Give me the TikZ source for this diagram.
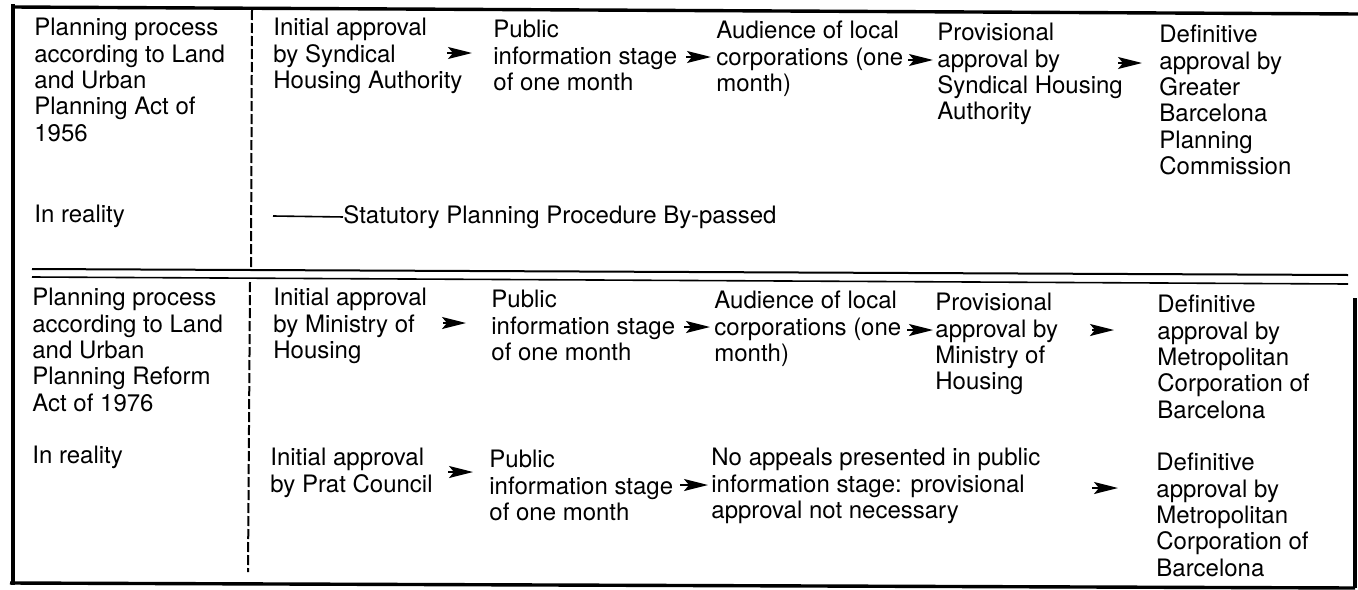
\documentclass[tikz,border=0pt]{standalone}
\usepackage{fontspec}
\setmainfont{TeX Gyre Heros}
\usetikzlibrary{arrows.meta}

\begin{document}
\begin{tikzpicture}[x=0.5pt, y=-0.5pt,
        txt/.style={anchor=north west, inner sep=0pt, align=left,
            font=\fontsize{12}{13.15}\selectfont},
        dart/.style={-{Stealth[length=12pt, width=6pt, inset=2.5pt]}, line width=1pt},
        frame/.style={line width=1.7pt}]
    \useasboundingbox (0,0) rectangle (1358,589);
    \node[txt] (h1) at (34,18)   {Planning process\\according to Land\\and Urban\\Planning Act of\\1956};
    \node[txt] (a1) at (273,18)  {Initial approval\\by Syndical\\Housing Authority};
    \node[txt] (b1) at (493,20)  {Public\\information stage\\of one month};
    \node[txt] (c1) at (716,21)  {Audience of local\\corporations (one\\month)};
    \node[txt] (d1) at (937,23)  {Provisional\\approval by\\Syndical Housing\\Authority};
    \node[txt] (e1) at (1159,25) {Definitive\\approval by\\Greater\\Barcelona\\Planning\\Commission};
    \node[txt] (h2) at (34,205)  {In reality};
    \node[txt] (f2) at (343,205) {Statutory Planning Procedure By-passed};
    \node[txt] (h3) at (32,288)  {Planning process\\according to Land\\and Urban\\Planning Reform\\Act of 1976};
    \node[txt] (a3) at (273,288) {Initial approval\\by Ministry of\\Housing};
    \node[txt] (b3) at (491,290) {Public\\information stage\\of one month};
    \node[txt] (c3) at (714,291) {Audience of local\\corporations (one\\month)};
    \node[txt] (d3) at (935,293) {Provisional\\approval by\\Ministry of\\Housing};
    \node[txt] (e3) at (1157,295) {Definitive\\approval by\\Metropolitan\\Corporation of\\Barcelona};
    \node[txt] (h4) at (32,446)  {In reality};
    \node[txt] (a4) at (270,448) {Initial approval\\by Prat Council};
    \node[txt] (b4) at (489,450) {Public\\information stage\\of one month};
    \node[txt] (c4) at (711,448) {No appeals presented in public\\information stage: provisional\\approval not necessary};
    \node[txt] (e4) at (1156,453) {Definitive\\approval by\\Metropolitan\\Corporation of\\Barcelona};
    \coordinate (g2) at (273,216);
    \coordinate (s11) at (447,53);   \coordinate (t11) at (472,53);
    \coordinate (s12) at (686,57);   \coordinate (t12) at (711,57);
    \coordinate (s13) at (908,60);   \coordinate (t13) at (933,60);
    \coordinate (s14) at (1118,63);  \coordinate (t14) at (1142,63);
    \coordinate (s31) at (443,323);  \coordinate (t31) at (466,323);
    \coordinate (s32) at (684,327);  \coordinate (t32) at (710,327);
    \coordinate (s33) at (907,330);  \coordinate (t33) at (933,330);
    \coordinate (s34) at (1092,330); \coordinate (t34) at (1114,330);
    \coordinate (s41) at (448,472);  \coordinate (t41) at (473,472);
    \coordinate (s42) at (680,485);  \coordinate (t42) at (708,485);
    \coordinate (s43) at (1092,488); \coordinate (t43) at (1118,488);
    \foreach \r in {11,12,13,14,31,32,33,34,41,42,43}
        \draw[dart] (s\r) -- (t\r);
    \draw[line width=0.8pt] (g2) -- (f2.west);
    \draw[frame] (12,7) -- (1358,14);
    \draw[frame] (13,4) -- (13,585);
    \draw[frame] (10,583) -- (1355,588);
    \draw[frame] (1355,298) -- (1355,588);
    \draw[line width=1pt] (32,269) -- (1348,275);
    \draw[line width=0.8pt] (32,277) -- (1348,284);
    \draw[line width=1pt, dash pattern=on 5pt off 1.5pt] (252,10) -- (251,268) (250,282) -- (248,572);
\end{tikzpicture}
\end{document}
